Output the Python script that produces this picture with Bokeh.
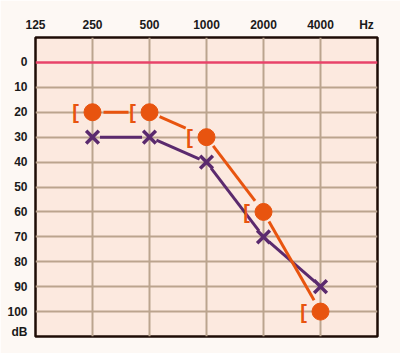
import math
from bokeh.plotting import figure
from bokeh.models import Range1d, FixedTicker, Span, ColumnDataSource
from bokeh.core.properties import value
from bokeh.embed import file_html
from bokeh.resources import INLINE

# data
freq_ticks = [125, 250, 500, 1000, 2000, 4000]
freq_labels = ["125", "250", "500", "1000", "2000", "4000"]
db_ticks = [0, 10, 20, 30, 40, 50, 60, 70, 80, 90, 100]
db_labels = ["0", "10", "20", "30", "40", "50", "60", "70", "80", "90", "100"]
x_unit, x_unit_pos = "Hz", 7000
y_unit, y_unit_pos = "dB", 108

freqs = [250, 500, 1000, 2000, 4000]
bone_db = [20, 20, 30, 60, 100]   # orange circles with bracket
air_db = [30, 30, 40, 70, 90]     # purple crosses

ORANGE = "#e8540f"
PURPLE = "#5b2a6e"
GRID = "#bba48e"
FONT = "Liberation Sans"

W, H = 400, 353
ML, MT, MR, MB = 35, 37, 23, 17
FW, FH = W - ML - MR, H - MT - MB
X0, X1 = 125, 8000
Y0, Y1 = -10, 110

p = figure(width=W, height=H, x_axis_type="log", x_axis_location="above",
           x_range=Range1d(X0, X1), y_range=Range1d(Y1, Y0),
           output_backend="svg", toolbar_location=None,
           min_border_left=ML, min_border_top=MT, min_border_right=MR, min_border_bottom=MB)

p.background_fill_color = "#fce9df"
p.border_fill_color = "#fdf8f4"
p.outline_line_color = "#1e0c06"
p.outline_line_width = 2.5

xt = freq_ticks + [x_unit_pos]
yt = db_ticks + [y_unit_pos]
p.xaxis.ticker = FixedTicker(ticks=xt)
p.xaxis.major_label_overrides = {t: l for t, l in zip(xt, freq_labels + [x_unit])}
p.yaxis.ticker = FixedTicker(ticks=yt)
p.yaxis.major_label_overrides = {t: l for t, l in zip(yt, db_labels + [y_unit])}
for ax in (p.xaxis, p.yaxis):
    ax.axis_line_color = None
    ax.major_tick_line_color = None
    ax.minor_tick_line_color = None
    ax.major_tick_out = 0
    ax.major_tick_in = 0
    ax.major_label_text_font = FONT
    ax.major_label_text_font_size = "12px"
    ax.major_label_text_font_style = "bold"
    ax.major_label_text_color = "#1a1a1a"
p.xaxis.major_label_standoff = 6
p.yaxis.major_label_standoff = 8

p.xgrid.ticker = FixedTicker(ticks=freqs)
p.ygrid.ticker = FixedTicker(ticks=db_ticks[1:])
for g in (p.xgrid, p.ygrid):
    g.grid_line_color = GRID
    g.grid_line_width = 2

p.add_layout(Span(location=0, dimension="width", line_color="#e8436a", line_width=2.5))

# helpers: shorten connecting segments so they stop short of the symbols (in screen px)
def to_px(f, d):
    return (math.log(f / X0) / math.log(X1 / X0) * FW, (d - Y0) / (Y1 - Y0) * FH)

def to_data(px, py):
    return (X0 * (X1 / X0) ** (px / FW), Y0 + py / FH * (Y1 - Y0))

def box_exit(ux, uy, left, right, half_h):
    ts = []
    if ux > 0:
        ts.append(-left / ux)
    elif ux < 0:
        ts.append(right / -ux)
    if uy != 0:
        ts.append(half_h / abs(uy))
    return min(ts)

def segments(xs, ys, start_cut, end_cut_fn):
    x0s, y0s, x1s, y1s = [], [], [], []
    for i in range(len(xs) - 1):
        ax_, ay_ = to_px(xs[i], ys[i])
        bx_, by_ = to_px(xs[i + 1], ys[i + 1])
        dx, dy = bx_ - ax_, by_ - ay_
        L = math.hypot(dx, dy)
        ux, uy = dx / L, dy / L
        e = end_cut_fn(ux, uy)
        sx, sy = to_data(ax_ + ux * start_cut, ay_ + uy * start_cut)
        ex, ey = to_data(bx_ - ux * e, by_ - uy * e)
        x0s.append(sx); y0s.append(sy); x1s.append(ex); y1s.append(ey)
    return dict(x0=x0s, y0=y0s, x1=x1s, y1=y1s)

seg_a = ColumnDataSource(segments(freqs, air_db, 7.5, lambda ux, uy: 7.5))
seg_b = ColumnDataSource(segments(freqs, bone_db, 11,
                                  lambda ux, uy: box_exit(ux, uy, -19, 9, 9.5) + 2))

src_b = ColumnDataSource(dict(x=freqs, y=bone_db, t=["["] * len(freqs)))
src_a = ColumnDataSource(dict(x=freqs, y=air_db))

p.segment("x0", "y0", "x1", "y1", source=seg_a, line_color=PURPLE, line_width=3)
p.scatter("x", "y", source=src_a, marker="x", size=18, line_color=PURPLE, line_width=3.5)

p.segment("x0", "y0", "x1", "y1", source=seg_b, line_color=ORANGE, line_width=3)
p.scatter("x", "y", source=src_b, marker="circle", size=17, fill_color=ORANGE, line_color=ORANGE)
p.text("x", "y", text="t", source=src_b, x_offset=-17, text_align="center", text_baseline="middle",
       text_font=value(FONT), text_font_size="20px", text_font_style="bold", text_color=ORANGE)

open("out.html", "w").write(file_html(p, INLINE))
